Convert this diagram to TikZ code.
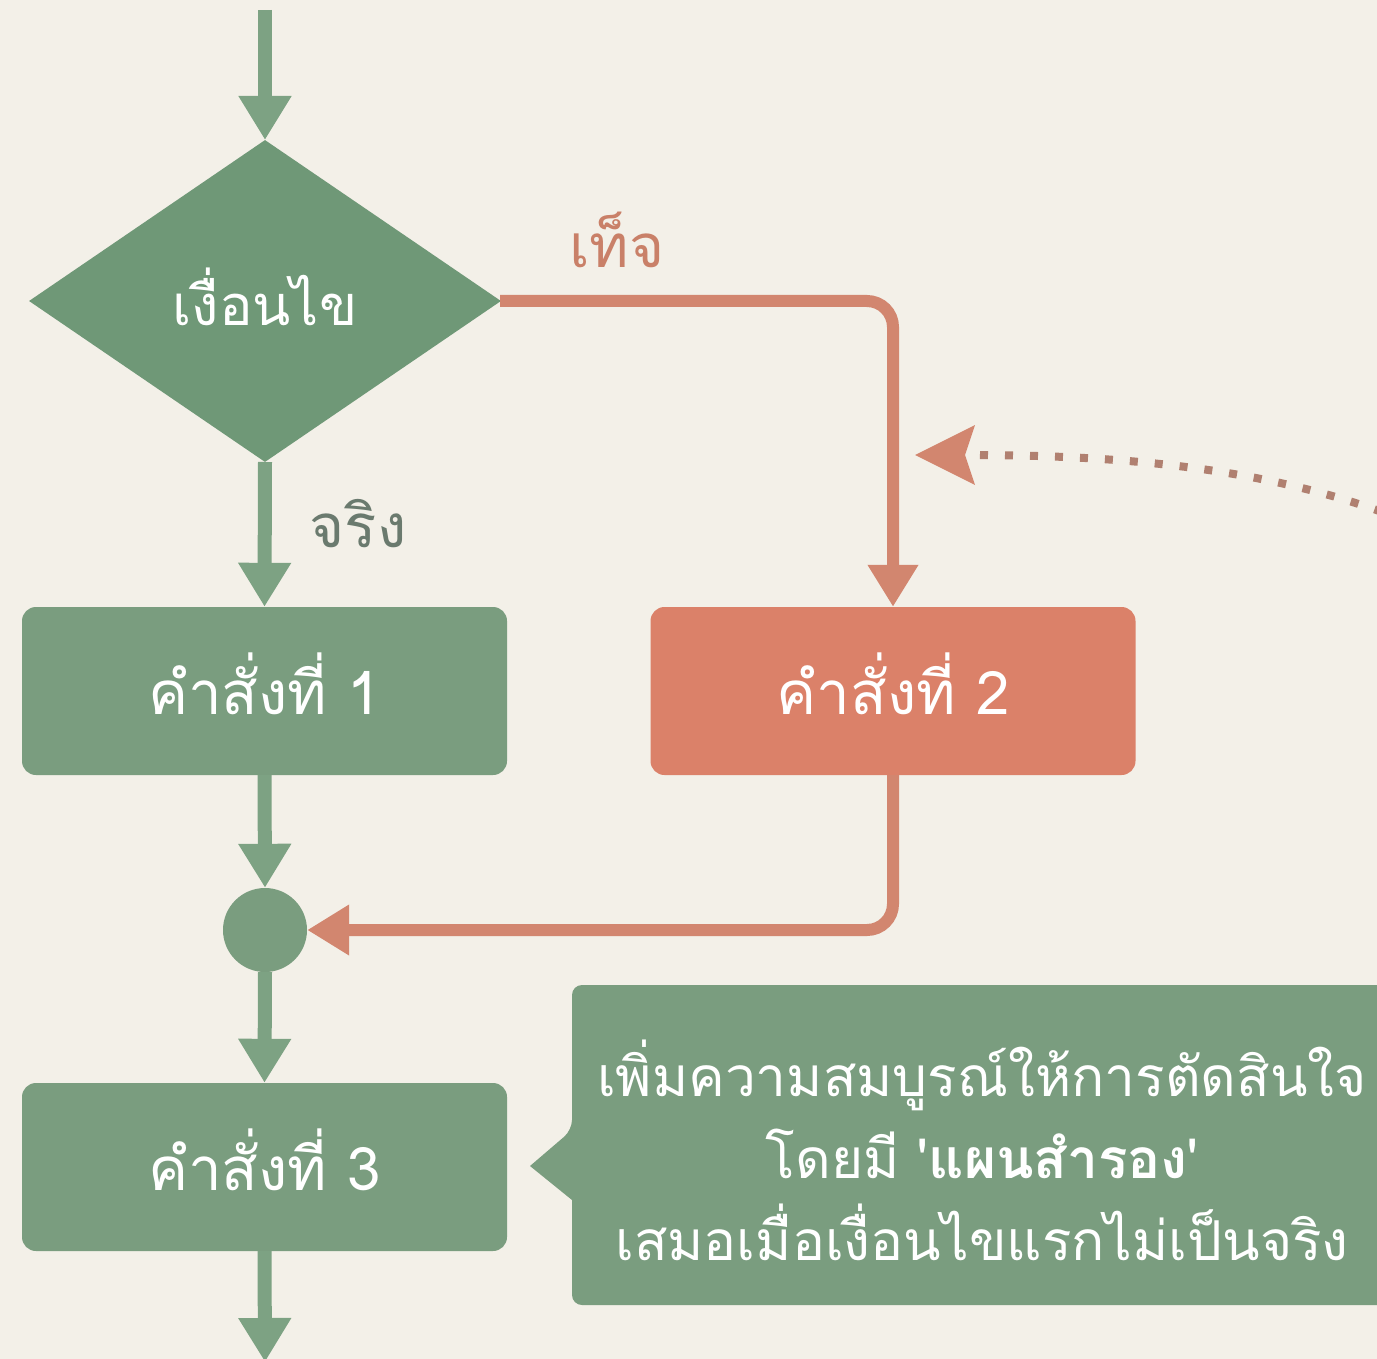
\documentclass[tikz,border=0pt]{standalone}
\usepackage{fontspec}
\newfontfamily\thaifont[Script=Thai]{Loma}
\usetikzlibrary{arrows.meta,shapes.geometric}
\definecolor{bg}{HTML}{F3F0E8}
\definecolor{gfill}{HTML}{7A9D7F}
\definecolor{gdia}{HTML}{6F9877}
\definecolor{garrow}{HTML}{7DA283}
\definecolor{sfill}{HTML}{DB8169}
\definecolor{sline}{HTML}{D2866F}
\definecolor{sdot}{HTML}{B08070}
\definecolor{lblg}{HTML}{6A7A6E}
\definecolor{lbls}{HTML}{C98068}
\tikzset{
  boxg/.style={draw=none,fill=gfill,rounded corners=14pt,minimum width=485pt,minimum height=168pt},
  boxs/.style={boxg,fill=sfill},
  btxt/.style={text=white,font=\thaifont\fontsize{60}{64}\selectfont},
  garr/.style={draw=garrow,line width=14pt,-{Triangle[width=50pt,length=44pt]}},
  sarr/.style={draw=sline,line width=12pt,rounded corners=26pt,-{Triangle[width=48pt,length=42pt]}},
  lbl/.style={font=\thaifont\fontsize{60}{64}\selectfont},
}
\begin{document}
\begin{tikzpicture}[x=1pt,y=-1pt]
\fill[bg] (0,0) rectangle (1377,1359);
\useasboundingbox (0,0) rectangle (1377,1359);
% nodes
\coordinate (top) at (265,10);
\node[diamond,fill=gdia,minimum width=472pt,minimum height=322pt,inner sep=0pt,aspect=1.466] (cond) at (265,301) {};
\node[btxt,font=\thaifont\fontsize{56}{60}\selectfont] (condt) at (265,297) {เงื่อนไข};
\node[boxg] (s1) at (264.5,691) {};
\node[btxt] (s1t) at (264.5,684) {คำสั่งที่ 1};
\node[boxs] (s2) at (893,691) {};
\node[btxt] (s2t) at (893,684) {คำสั่งที่ 2};
\node[circle,fill=gfill,minimum size=84pt,inner sep=0pt] (m) at (265,930) {};
\node[boxg] (s3) at (264.5,1167) {};
\node[btxt] (s3t) at (264.5,1160) {คำสั่งที่ 3};
\coordinate (bot) at (265,1362);
% connectors
\draw[garr] (top) -- (265,140);
\draw[garr] (265,462) -- (s1.north);
\draw[garr] (s1.south) -- (m.north);
\draw[garr] (m.south) -- (s3.north);
\draw[garr] (s3.south) -- (bot);
\draw[sarr] (500,301) -- (893,301) -- (s2.north);
\draw[sarr] (s2.south) -- (893,930) -- (m.east);
% labels
\node[lbl,text=lblg] (lt) at (358,524) {จริง};
\node[lbl,text=lbls] (lf) at (617,240) {เท็จ};
% dotted arrow
\coordinate (dstart) at (1382,512);
\coordinate (dend) at (915,455);
\draw[sdot,line width=8pt,dash pattern=on 8pt off 17pt] (dstart) .. controls (1260,468) and (1120,455) .. (968,455);
\draw[fill=sline,draw=none] (dend) -- (975,425) -- (965,455) -- (975,485) -- cycle;
% callout
\fill[gfill,rounded corners=10pt] (1400,985) -- (572,985) -- (572,1130) [sharp corners] -- (530,1166) -- (572,1200) [rounded corners=10pt] -- (572,1305) -- (1400,1305);
\node[text=white,align=center,font=\thaifont\fontsize{55}{82}\selectfont] (note) at (982,1150) {เพิ่มความสมบูรณ์ให้การตัดสินใจ\\โดยมี '\textbf{แผนสำรอง}'\\เสมอเมื่อเงื่อนไขแรกไม่เป็นจริง};
\end{tikzpicture}
\end{document}
